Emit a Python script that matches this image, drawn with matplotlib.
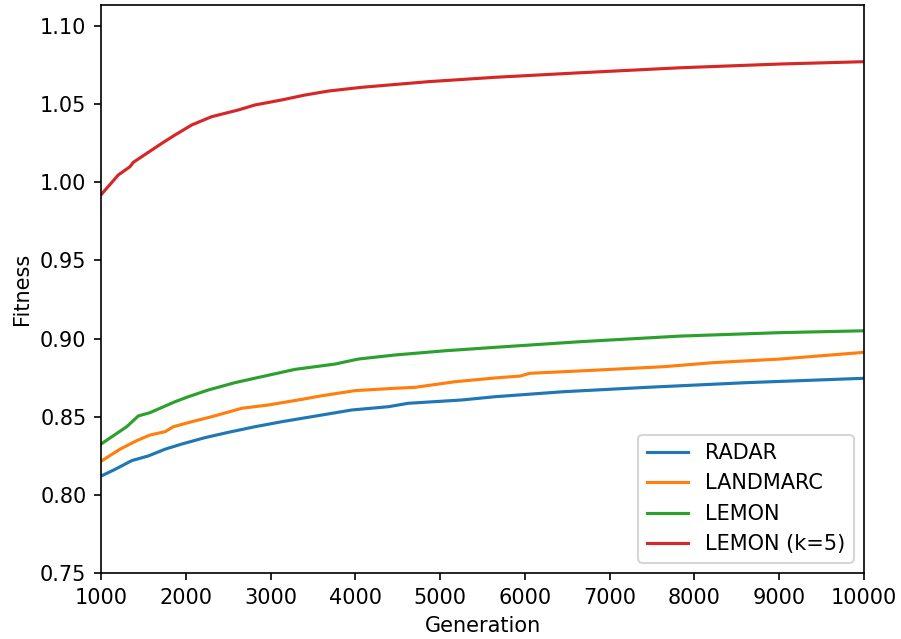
import matplotlib
matplotlib.use("Agg")
import matplotlib.pyplot as plt

# 近似值 (generation, fitness)
radar_gen = [1000, 1165, 1362, 1558, 1755, 1951, 2226, 2501, 2816, 3130, 3484,
             3956, 4388, 4624, 5253, 5646, 6452, 7435, 8615, 10000]
radar_fit = [0.812, 0.8163, 0.8219, 0.8249, 0.8292, 0.8325, 0.8366, 0.840, 0.8436,
             0.8468, 0.850, 0.8543, 0.8564, 0.8586, 0.8607, 0.8628, 0.866, 0.8688,
             0.8718, 0.8746]

landmarc_gen = [1000, 1224, 1421, 1578, 1755, 1853, 2070, 2305, 2660, 2973, 3367,
                3603, 3995, 4467, 4703, 5175, 5646, 5941, 6059, 6649, 7632, 8222,
                9007, 10000]
landmarc_fit = [0.8215, 0.8292, 0.8347, 0.8383, 0.8404, 0.8436, 0.8468, 0.850,
                0.8554, 0.8575, 0.8611, 0.8634, 0.8667, 0.8682, 0.8688, 0.8724,
                0.8748, 0.876, 0.8778, 0.8793, 0.882, 0.8846, 0.8869, 0.8912]

lemon_gen = [1000, 1303, 1440, 1578, 1873, 2030, 2265, 2580, 2895, 3288, 3760,
             4034, 4467, 5057, 5646, 6649, 7828, 9007, 10000]
lemon_fit = [0.8325, 0.8436, 0.8505, 0.8526, 0.8596, 0.8628, 0.8671, 0.8718,
             0.8756, 0.8803, 0.8837, 0.8869, 0.8895, 0.8922, 0.8944, 0.898,
             0.9016, 0.9038, 0.905]

lemon5_gen = [1000, 1204, 1342, 1381, 1716, 1873, 2070, 2305, 2620, 2816, 3130,
              3400, 3680, 4074, 4860, 5646, 6649, 7828, 9007, 10000]
lemon5_fit = [0.992, 1.0047, 1.010, 1.0128, 1.0249, 1.0303, 1.0367, 1.042, 1.0463,
              1.0495, 1.0527, 1.0558, 1.0584, 1.0608, 1.0644, 1.0672, 1.0701,
              1.0733, 1.0757, 1.0772]

series = [
    ("RADAR", radar_gen, radar_fit),
    ("LANDMARC", landmarc_gen, landmarc_fit),
    ("LEMON", lemon_gen, lemon_fit),
    ("LEMON (k=5)", lemon5_gen, lemon5_fit),
]

DPI = 150
fig, ax = plt.subplots(figsize=(901 / DPI, 639 / DPI), dpi=DPI)
fig.subplots_adjust(left=0.1121, right=0.959, top=0.992, bottom=0.1033)

for name, gen, fit in series:
    ax.plot(gen, fit, label=name)

ax.set_xlim(1000, 10000)
ax.set_ylim(0.75, 1.1134)
ax.set_xlabel("Generation")
ax.set_ylabel("Fitness")
ax.legend(loc="lower right")

fig.savefig("out.png", dpi=DPI)
